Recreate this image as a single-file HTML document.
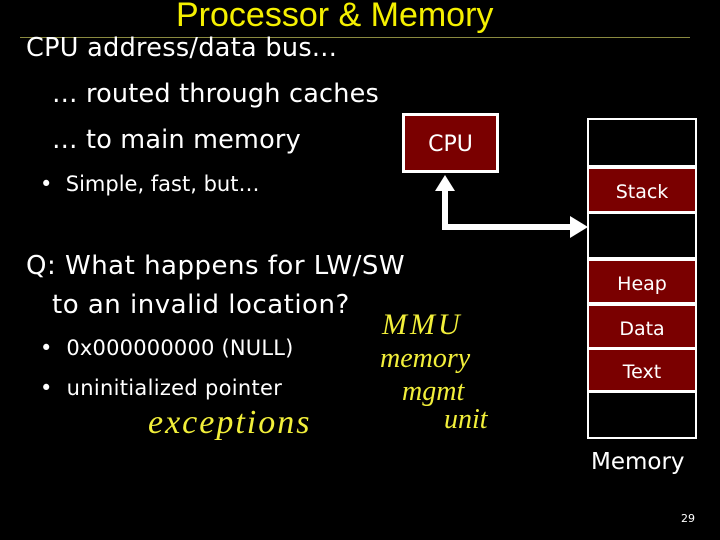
<!DOCTYPE html>
<html><head><meta charset="utf-8"><style>
body{margin:0;background:#000;}
#s{position:relative;width:720px;height:540px;background:#000;overflow:hidden;font-family:"DejaVu Sans","Liberation Sans",sans-serif;color:#fff;}
.t{position:absolute;white-space:nowrap;}
.seg{position:absolute;left:589px;width:106px;box-sizing:border-box;display:flex;align-items:center;justify-content:center;font-size:19px;padding-top:4px;}
.r{background:#7a0000;}
.hw{position:absolute;white-space:nowrap;color:#f2ef3a;font-family:"Liberation Serif",serif;font-style:italic;}
</style></head><body><div id="s">
<div class="t" style="left:176px;top:-4px;font-family:'Liberation Sans',sans-serif;font-size:34px;color:#f5f000;">Processor &amp; Memory</div>
<div style="position:absolute;left:20px;top:37px;width:670px;height:1px;background:#8a8a40;"></div>
<div class="t" style="left:26px;top:33px;font-size:25.5px;letter-spacing:0.3px;">CPU address/data bus...</div>
<div class="t" style="left:52px;top:79px;font-size:25.5px;letter-spacing:0.2px;">… routed through caches</div>
<div class="t" style="left:52px;top:125px;font-size:25.5px;letter-spacing:0.2px;">… to main memory</div>
<div class="t" style="left:40px;top:172px;font-size:21px;">•&nbsp; Simple, fast, but…</div>
<div class="t" style="left:26px;top:251px;font-size:26px;letter-spacing:0.5px;">Q: What happens for LW/SW</div>
<div class="t" style="left:52px;top:290px;font-size:26px;letter-spacing:0.5px;">to an invalid location?</div>
<div class="t" style="left:40px;top:336px;font-size:21px;letter-spacing:0.2px;">•&nbsp; 0x000000000 (NULL)</div>
<div class="t" style="left:40px;top:376px;font-size:21px;letter-spacing:0.3px;">•&nbsp; uninitialized pointer</div>
<div class="hw" style="left:148px;top:404px;font-size:34px;letter-spacing:2px;">exceptions</div>
<div class="hw" style="left:382px;top:308px;font-size:30px;letter-spacing:3px;">MMU</div>
<div class="hw" style="left:380px;top:343px;font-size:28px;">memory</div>
<div class="hw" style="left:402px;top:376px;font-size:28px;">mgmt</div>
<div class="hw" style="left:444px;top:404px;font-size:28px;">unit</div>
<div style="position:absolute;left:402px;top:113px;width:97px;height:60px;box-sizing:border-box;border:3px solid #fff;background:#7a0000;display:flex;align-items:center;justify-content:center;font-size:22px;padding-top:3px;">CPU</div>
<svg style="position:absolute;left:0;top:0" width="720" height="540">
<polyline points="445,188 445,227 572,227" fill="none" stroke="#fff" stroke-width="6"/>
<polygon points="435,191 445,175 455,191" fill="#fff"/>
<polygon points="570,216 588,227 570,238" fill="#fff"/>
<path d="M603,232 Q630,226 660,233" stroke="#f2ef3a" stroke-width="2" fill="none"/>
<path d="M603,232 L612,227 M603,232 L612,236" stroke="#f2ef3a" stroke-width="2" fill="none"/>
</svg>
<div style="position:absolute;left:587px;top:118px;width:110px;height:321px;box-sizing:border-box;border:2px solid #fff;background:#fff;"></div>
<div class="seg" style="top:120px;height:45px;background:#000;"></div>
<div class="seg r" style="top:169px;height:42px;">Stack</div>
<div class="seg" style="top:214px;height:43px;background:#000;"></div>
<div class="seg r" style="top:261px;height:41px;">Heap</div>
<div class="seg r" style="top:306px;height:41px;">Data</div>
<div class="seg r" style="top:350px;height:40px;">Text</div>
<div class="seg" style="top:393px;height:44px;background:#000;"></div>
<div class="t" style="left:591px;top:449px;font-size:23px;">Memory</div>
<div class="t" style="left:681px;top:512px;font-size:11px;">29</div>
</div></body></html>
